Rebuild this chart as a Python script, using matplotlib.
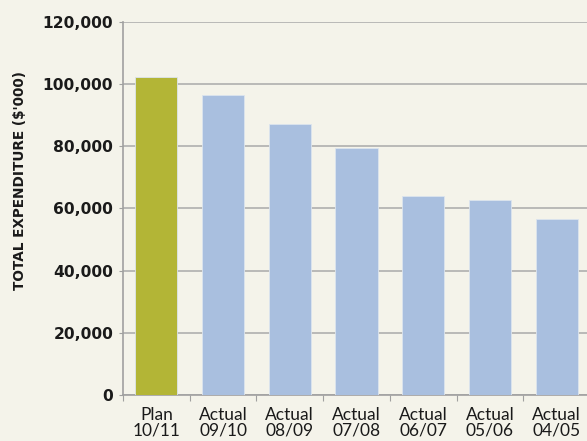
import matplotlib
matplotlib.use("Agg")
import matplotlib.pyplot as plt
import numpy as np

categories = ["Plan\n10/11", "Actual\n09/10", "Actual\n08/09", "Actual\n07/08",
              "Actual\n06/07", "Actual\n05/06", "Actual\n04/05"]
values = [102300, 96400, 87200, 79500, 64000, 62700, 56600]
bar_colors = ["#B3B536", "#A9BFDF", "#A9BFDF", "#A9BFDF", "#A9BFDF", "#A9BFDF", "#A9BFDF"]
y_ticks = [0, 20000, 40000, 60000, 80000, 100000, 120000]
y_label = "TOTAL EXPENDITURE ($'000)"

bg = "#F4F3EA"
fig = plt.figure(figsize=(5.87, 4.41), dpi=100, facecolor=bg)
ax = fig.add_axes([123/587, 46/441, 467/587, 373/441], facecolor=bg)

x = np.arange(len(categories))
ax.bar(x, values, width=0.63, color=bar_colors, edgecolor="#DCE4EE", linewidth=0.6, zorder=3)

ax.set_xlim(-0.5, len(categories) - 0.5)
ax.set_ylim(0, 120000)
ax.set_yticks(y_ticks)
ax.set_yticklabels([f"{v:,}" for v in y_ticks], fontfamily="DejaVu Sans", fontweight="bold",
                   fontsize=11.2, color="#1a1a1a")
ax.yaxis.grid(True, color="#A9A9A9", linewidth=1.1, zorder=1)
ax.set_axisbelow(True)
ax.tick_params(axis="y", length=3, color="#A0A0A0", pad=4)

ax.set_xticks(np.arange(len(categories) + 1) - 0.5)
ax.set_xticklabels([])
ax.tick_params(axis="x", which="major", length=4, color="#A0A0A0")
ax.set_xticks(x, minor=True)
ax.set_xticklabels(categories, minor=True, fontfamily="Lato", fontsize=12.5,
                   color="#1a1a1a", linespacing=0.95)
ax.tick_params(axis="x", which="minor", length=0, pad=9)

for s in ["top", "right"]:
    ax.spines[s].set_visible(False)
for s in ["left", "bottom"]:
    ax.spines[s].set_color("#A0A0A0")
    ax.spines[s].set_linewidth(1.2)

fig.text(20/587, 1 - 181/441, y_label, rotation=90, ha="center", va="center",
         fontfamily="DejaVu Sans", fontweight="bold", fontsize=9.8, color="#1a1a1a")

fig.savefig("out.png", dpi=100, facecolor=bg)
